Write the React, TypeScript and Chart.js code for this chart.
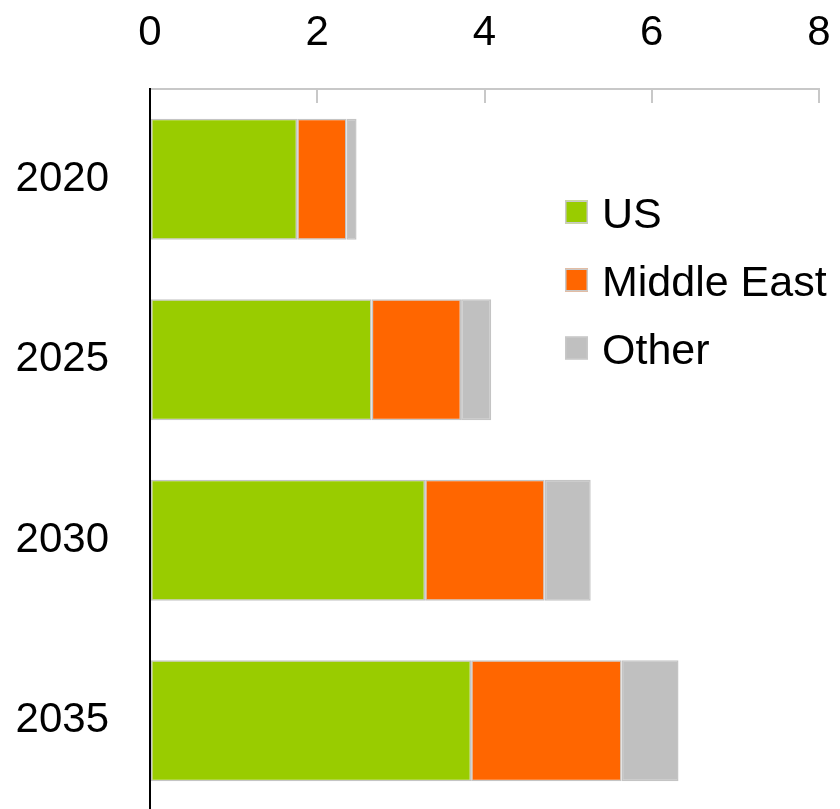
import React, { useEffect, useRef } from "react";
import { Chart, registerables } from "chart.js";

Chart.register(...registerables);

const categories = ["2020", "2025", "2030", "2035"];
const usValues = [1.76, 2.65, 3.29, 3.84];
const middleEastValues = [0.59, 1.07, 1.43, 1.80];
const otherValues = [0.12, 0.36, 0.55, 0.68];
const seriesNames = ["US", "Middle East", "Other"];
const seriesColors = ["#99cc00", "#ff6600", "#c0c0c0"];
const xTickValues = [0, 2, 4, 6, 8];

const FONT = '"Liberation Sans", Arial, sans-serif';

const insideLegend = {
  id: "insideLegend",
  afterDraw(chart: any) {
    const { ctx, chartArea } = chart;
    const x0 = chartArea.left + 415;
    let yc = chartArea.top + 123;
    ctx.save();
    chart.data.datasets.forEach((ds: any) => {
      ctx.fillStyle = ds.backgroundColor;
      ctx.fillRect(x0, yc - 11.5, 23, 23);
      ctx.strokeStyle = "#c8c8c8";
      ctx.lineWidth = 1.5;
      ctx.strokeRect(x0 + 0.75, yc - 10.75, 21.5, 21.5);
      ctx.fillStyle = "#000";
      ctx.font = `43px ${FONT}`;
      ctx.textBaseline = "alphabetic";
      ctx.textAlign = "left";
      ctx.fillText(ds.label, x0 + 37, yc + 15.5);
      yc += 68;
    });
    ctx.restore();
  },
};

const zeroPadding = (scale: any) => {
  scale.paddingLeft = 0;
  scale.paddingRight = 0;
  scale.paddingTop = 0;
  scale.paddingBottom = 0;
};

export default function App() {
  const ref = useRef<HTMLCanvasElement | null>(null);

  useEffect(() => {
    if (!ref.current) return;
    const values = [usValues, middleEastValues, otherValues];
    const chart = new Chart(ref.current, {
      type: "bar",
      data: {
        labels: categories,
        datasets: seriesNames.map((name, i) => ({
          label: name,
          data: values[i],
          backgroundColor: seriesColors[i],
          borderColor: "#c4c4c4",
          borderWidth: 1.5,
          borderSkipped: false,
          barPercentage: 0.67,
          categoryPercentage: 1,
        })),
      },
      options: {
        indexAxis: "y",
        animation: false,
        responsive: false,
        maintainAspectRatio: false,
        layout: { padding: { top: 0, right: 21, bottom: 0, left: 0 } },
        plugins: {
          legend: { display: false },
          tooltip: { enabled: false },
        },
        scales: {
          x: {
            position: "top",
            stacked: true,
            min: 0,
            max: 8,
            afterBuildTicks: (scale: any) => {
              scale.ticks = xTickValues.map((v) => ({ value: v }));
            },
            afterFit: (scale: any) => {
              scale.height = 89;
              zeroPadding(scale);
            },
            ticks: {
              font: { family: FONT, size: 42 },
              color: "#000",
              padding: 44,
              maxRotation: 0,
            },
            grid: {
              drawOnChartArea: false,
              drawTicks: true,
              tickLength: -14,
              color: "#c8c8c8",
              lineWidth: 2,
            },
            border: { display: true, color: "#c8c8c8", width: 2 },
          },
          y: {
            stacked: true,
            afterFit: (scale: any) => {
              scale.width = 150;
              zeroPadding(scale);
            },
            ticks: {
              font: { family: FONT, size: 42 },
              color: "#000",
              padding: 41,
            },
            grid: { display: false, drawTicks: false },
            border: { display: true, color: "#000", width: 2 },
          },
        },
      },
      plugins: [insideLegend],
    });
    return () => chart.destroy();
  }, []);

  return (
    <div style={{ position: "fixed", left: 0, top: 0, width: 840, height: 811, background: "#fff" }}>
      <canvas ref={ref} width={840} height={811} style={{ display: "block" }} />
    </div>
  );
}
